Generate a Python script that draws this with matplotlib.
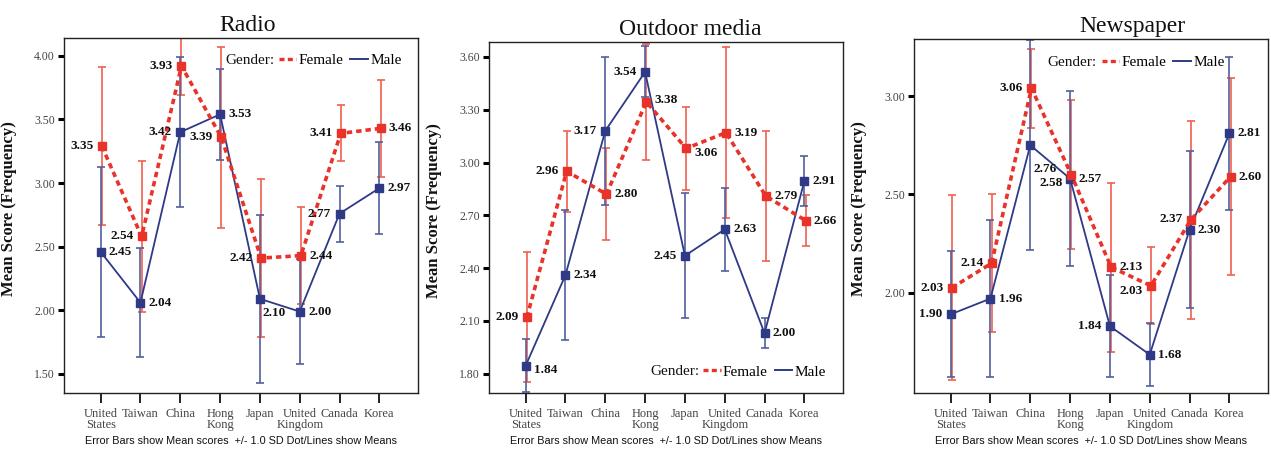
import matplotlib
matplotlib.use("Agg")
import matplotlib.pyplot as plt
from matplotlib.lines import Line2D
import numpy as np

# ---------------- data ----------------
countries = ["United\nStates", "Taiwan", "China", "Hong\nKong", "Japan",
             "United\nKingdom", "Canada", "Korea"]

titles = ["Radio", "Outdoor media", "Newspaper"]

# Radio
radio_female_mean = [3.29, 2.58, 3.92, 3.36, 2.41, 2.43, 3.39, 3.43]
radio_female_sd = [0.62, 0.59, 0.23, 0.71, 0.62, 0.38, 0.22, 0.38]
radio_female_lbl = ["3.35", "2.54", "3.93", "3.39", "2.42", "2.44", "3.41", "3.46"]
radio_male_mean = [2.46, 2.06, 3.40, 3.54, 2.09, 1.99, 2.76, 2.96]
radio_male_sd = [0.67, 0.43, 0.59, 0.36, 0.66, 0.41, 0.22, 0.36]
radio_male_lbl = ["2.45", "2.04", "3.42", "3.53", "2.10", "2.00", "2.77", "2.97"]

# Outdoor media
outdoor_female_mean = [2.12, 2.95, 2.82, 3.345, 3.08, 3.17, 2.81, 2.67]
outdoor_female_sd = [0.37, 0.23, 0.26, 0.33, 0.235, 0.485, 0.37, 0.145]
outdoor_female_lbl = ["2.09", "2.96", "2.80", "3.38", "3.06", "3.19", "2.79", "2.66"]
outdoor_male_mean = [1.845, 2.36, 3.18, 3.515, 2.47, 2.62, 2.03, 2.895]
outdoor_male_sd = [0.15, 0.37, 0.42, 0.145, 0.355, 0.235, 0.085, 0.14]
outdoor_male_lbl = ["1.84", "2.34", "3.17", "3.54", "2.45", "2.63", "2.00", "2.91"]

# Newspaper
news_female_mean = [2.025, 2.15, 3.04, 2.60, 2.13, 2.035, 2.37, 2.59]
news_female_sd = [0.47, 0.35, 0.20, 0.38, 0.43, 0.195, 0.505, 0.50]
news_female_lbl = ["2.03", "2.14", "3.06", "2.58", "2.13", "2.03", "2.37", "2.60"]
news_male_mean = [1.89, 1.97, 2.75, 2.58, 1.83, 1.685, 2.32, 2.81]
news_male_sd = [0.32, 0.40, 0.535, 0.445, 0.26, 0.16, 0.40, 0.39]
news_male_lbl = ["1.90", "1.96", "2.76", "2.57", "1.84", "1.68", "2.30", "2.81"]

yticks_list = [[1.50, 2.00, 2.50, 3.00, 3.50, 4.00],
               [1.80, 2.10, 2.40, 2.70, 3.00, 3.30, 3.60],
               [2.00, 2.50, 3.00]]

caption = "Error Bars show Mean scores  +/- 1.0 SD Dot/Lines show Means"

# ---------------- layout / style ----------------
ylims = [(1.35, 4.14), (1.69, 3.685), (1.49, 3.29)]
axes_rects = [(64, 38, 354, 355), (489, 42, 354, 351), (914, 39, 354, 354)]
title_x = [0.52, 0.568, 0.616]
legend_pos = [(0.455, 0.607, 0.938), (0.455, 0.605, 0.060), (0.376, 0.530, 0.935)]

# label placement codes: (side, dy in points)
radio_f_place = [("l", 0), ("l", 0), ("l", 0), ("l", 0), ("l", 0), ("r", 0), ("l", 0), ("r", 0)]
radio_m_place = [("r", 0), ("r", 0), ("l", 0), ("r", 0), ("rb", -10), ("r", 0), ("l", 0), ("r", 0)]
out_f_place = [("l", 0), ("l", 0), ("r", 0), ("r", 1), ("r", -3), ("r", 0), ("r", 0), ("r", 0)]
out_m_place = [("r", -3), ("r", 0), ("l", 0), ("l", 0), ("l", 0), ("r", 0), ("r", 0), ("r", 0)]
news_f_place = [("l", 0), ("l", 0), ("l", 0), ("l", -6), ("r", 0), ("l", -4), ("l", 1), ("r", 0)]
news_m_place = [("l", 0), ("r", 0), ("rb", -17), ("r", 0), ("l", 0), ("r", 0), ("r", 0), ("r", 0)]

panels = [
    (radio_female_mean, radio_female_sd, radio_female_lbl, radio_male_mean, radio_male_sd,
     radio_male_lbl, radio_f_place, radio_m_place),
    (outdoor_female_mean, outdoor_female_sd, outdoor_female_lbl, outdoor_male_mean,
     outdoor_male_sd, outdoor_male_lbl, out_f_place, out_m_place),
    (news_female_mean, news_female_sd, news_female_lbl, news_male_mean, news_male_sd,
     news_male_lbl, news_f_place, news_m_place),
]

RED = "#E8322A"
RED_EB = "#F0604F"
NAVY = "#2E3A86"
NAVY_EB = "#52609E"
SERIF = ["Liberation Serif", "DejaVu Serif"]

W, H = 1271, 450
fig = plt.figure(figsize=(W / 100, H / 100), dpi=100)

x = np.arange(len(countries))


def place_labels(ax, xs, means, labels, places):
    for xi, yi, lab, (side, dy) in zip(xs, means, labels, places):
        if side == "l":
            dx, ha = -6, "right"
        elif side == "r":
            dx, ha = 6, "left"
        else:  # right-below
            dx, ha = 2, "left"
        ax.annotate(lab, (xi, yi), xytext=(dx, dy), textcoords="offset points",
                    ha=ha, va="center", fontsize=9.5, fontweight="bold",
                    family=SERIF, color="#111111", zorder=6)


for i, (fm, fsd, flab, mm, msd, mlab, fpl, mpl) in enumerate(panels):
    l, t, w, h = axes_rects[i]
    ax = fig.add_axes([l / W, 1 - (t + h) / H, w / W, h / H])
    xf = x + 0.03
    xm = x - 0.0
    # error bars
    ax.errorbar(xf, fm, yerr=fsd, fmt="none", ecolor=RED_EB, elinewidth=1.2,
                capsize=3.2, capthick=1.2, zorder=2)
    ax.errorbar(xm, mm, yerr=msd, fmt="none", ecolor=NAVY_EB, elinewidth=1.2,
                capsize=3.2, capthick=1.2, zorder=2)
    # lines
    ax.plot(xm, mm, color=NAVY, lw=1.3, marker="s", ms=6.3, mec=NAVY, mfc=NAVY, zorder=4)
    ax.plot(xf, fm, color=RED, lw=2.6, ls=(0, (1.5, 1.1)), marker="s", ms=6.3,
            mec=RED, mfc=RED, zorder=5)

    place_labels(ax, xf, fm, flab, fpl)
    place_labels(ax, xm, mm, mlab, mpl)

    ax.set_xlim(-0.92, 7.97)
    ax.set_ylim(*ylims[i])
    ax.set_xticks(x)
    ax.set_xticklabels(countries, family=SERIF, fontsize=9, color="#444444",
                       linespacing=0.95)
    ax.set_yticks(yticks_list[i])
    ax.set_yticklabels([f"{v:.2f}" for v in yticks_list[i]], family=SERIF,
                       fontsize=8.5, color="#444444")
    ax.tick_params(axis="x", direction="out", length=7, width=1.3, pad=3.5, color="#111111")
    ax.tick_params(axis="y", direction="out", length=4.5, width=2.2, pad=2, color="#000000")
    for sp in ax.spines.values():
        sp.set_linewidth(1.0)
        sp.set_color("#222222")

    ax.set_ylabel("Mean Score (Frequency)", family=SERIF, fontsize=12,
                  fontweight="bold", color="#111111")
    ax.yaxis.set_label_coords(-0.133, 0.52)

    ax.set_title(titles[i], family=SERIF, fontsize=17, x=title_x[i], pad=5,
                 color="#111111")

    # legend
    gx, lx, ly = legend_pos[i]
    ax.text(gx, ly, "Gender:", transform=ax.transAxes, family=SERIF, fontsize=11,
            ha="left", va="center", color="#111111", zorder=7)
    handles = [Line2D([], [], color=RED, lw=2.4, ls=(0, (1.5, 1.0))),
               Line2D([], [], color=NAVY, lw=1.4)]
    ax.legend(handles, ["Female", "Male"], loc="center left",
              bbox_to_anchor=(lx, ly), ncol=2, frameon=False, borderpad=0,
              borderaxespad=0, handlelength=1.15, handletextpad=0.15,
              columnspacing=0.45, prop={"family": SERIF, "size": 11})

    fig.text((l + w / 2) / W, 1 - 441 / H, caption, ha="center", va="center",
             fontsize=7.8, family=["Liberation Sans", "DejaVu Sans"], color="#111111")

fig.savefig("out.png", dpi=100)
